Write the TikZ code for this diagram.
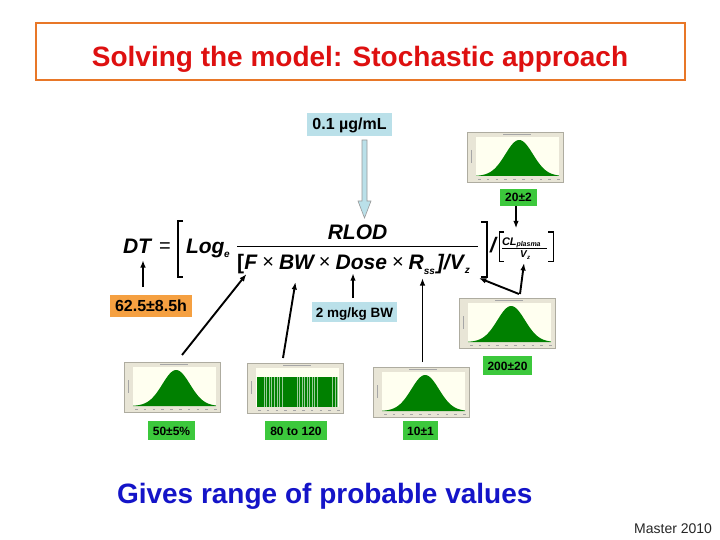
\documentclass[tikz,border=0pt]{standalone}
\usepackage{fontspec}
\setmainfont{Liberation Sans}
\usetikzlibrary{calc,arrows.meta}
\definecolor{titlered}{RGB}{222,16,16}
\definecolor{frameorange}{RGB}{232,119,40}
\definecolor{lightblue}{RGB}{186,224,233}
\definecolor{boxgreen}{RGB}{60,200,60}
\definecolor{boxorange}{RGB}{245,160,65}
\definecolor{histframe}{RGB}{232,229,214}
\definecolor{histinner}{RGB}{255,255,240}
\definecolor{histgreen}{RGB}{0,128,0}
\definecolor{gblue}{RGB}{20,20,200}
\newcommand\fbi[1]{\fontsize{#1}{#1}\selectfont\bfseries\itshape}
\newcommand\fup[1]{\fontsize{#1}{#1}\selectfont}
\tikzset{
  every node/.style={inner sep=0pt, outer sep=0pt},
  valbox/.style={fill=#1, font=\fup{12}\bfseries, text height=9pt, text depth=0pt, minimum height=19pt},
  bigbox/.style={fill=#1, font=\fup{15}\bfseries, text height=11pt, text depth=0pt},
  histbox/.style={fill=histframe, draw=histframe!75!black, line width=0.4pt, minimum width=96pt, minimum height=50pt},
  tiny/.style={gray!70, line width=0.9pt},
  arr/.style={-{Latex[length=7.5pt,width=5.5pt]}, line width=1.9pt, black},
  brk/.style={line width=1.2pt, black},
  fml/.style={anchor=base west, font=\fbi{21}},
  fmls/.style={anchor=base west, font=\fbi{10}},
  fmlx/.style={anchor=base west, font=\fup{20}},
}
\newcommand{\histdeco}{%
  \fill[histinner] (9,5) rectangle (92,44);
  \draw[tiny] (36,2.5) -- (64,2.5);
  \draw[tiny,line width=0.6pt] (4.5,18) -- (4.5,31);
  \foreach \t in {0,...,9} \draw[tiny,line width=0.6pt] ({11+\t*8.8},47) -- ({13.5+\t*8.8},47);
}
\newcommand{\bellhist}[3]{%
  \node[histbox, anchor=north west] (#1) at (#2,#3) {};
  \begin{scope}[shift={(#1.north west)}]
    \histdeco
    \fill[histgreen] (9,44) -- plot[domain=0:1,samples=60] ({9+83*\x},{44-36*exp(-((\x-0.52)^2)/0.055)}) -- (92,44) -- cycle;
  \end{scope}}
\newcommand{\barhist}[3]{%
  \node[histbox, anchor=north west] (#1) at (#2,#3) {};
  \begin{scope}[shift={(#1.north west)}]
    \histdeco
    \fill[histgreen!40] (10,14) rectangle (91,44);
    \foreach \i in {0,...,31} \fill[histgreen] ({10.3+\i*2.53},14) rectangle ({11.8+\i*2.53},44);
    \fill[histgreen] (10,14) rectangle (17,44);
    \fill[histgreen] (36,14) rectangle (48,44);
    \fill[histgreen] (73,14) rectangle (85,44);
  \end{scope}}
\begin{document}
\begin{tikzpicture}[x=1pt,y=-1pt]
\useasboundingbox (0,0) rectangle (720,540);
\fill[white] (0,0) rectangle (720,540);

% title
\node[draw=frameorange, line width=2.5pt, minimum width=649pt, minimum height=57pt] (titlebox) at (360.5,51.5) {};
\node[anchor=base, font=\fup{28}\bfseries, text=titlered] (title) at (360,67) {Solving the model: Stochastic approach};

% top concentration box and hollow arrow
\node[bigbox=lightblue, minimum width=85pt, minimum height=23pt, font=\fup{16}\bfseries] (nug) at (349.5,124.5) {0.1 µg/mL};
\coordinate (ha) at ($(nug.south)+(15,4)$);
\begin{scope}[shift={(ha)}]
  \filldraw[fill=lightblue, draw=gray!80, line width=0.6pt] (-2.5,0) -- (-2.5,61) -- (-6.5,61) -- (0,78) -- (6.5,61) -- (2.5,61) -- (2.5,0) -- cycle;
\end{scope}

% formula
\node[fml] (DT) at (123,253) {DT};
\node[fmlx] (eq) at (159,252) {=};
\draw[brk] (183,221) -- (178,221) -- (178,277) -- (183,277);
\node[fml] (log) at (186,253) {Log};
\node[fmls] (sube) at (224,257) {e};
\node[fml, anchor=base] (rlod) at (357.5,240) {RLOD};
\draw[line width=1.2pt] (237,246.5) -- (478,246.5);
\node[fml, font=\fup{21}\bfseries] (dbra) at (237,269) {[};
\node[fml] (dF) at ($(dbra.base east)+(0.5,0)$) {F};
\node[fmlx] (dx1) at ($(dF.base east)+(5,-1)$) {×};
\node[fml] (dBW) at ($(dx1.base east)+(5,1)$) {BW};
\node[fmlx] (dx2) at ($(dBW.base east)+(5,-1)$) {×};
\node[fml] (dDose) at ($(dx2.base east)+(5,1)$) {Dose};
\node[fmlx] (dx3) at ($(dDose.base east)+(5,-1)$) {×};
\node[fml] (dR) at ($(dx3.base east)+(5,1)$) {R};
\node[fmls] (dss) at ($(dR.base east)+(0,5)$) {ss};
\node[fml] (dket) at ($(dss.base east)+(2,-5)$) {]/V};
\node[fmls] (dz) at ($(dket.base east)+(1,4)$) {z};
\draw[brk] (481,222) -- (487,222) -- (487,277) -- (481,277);
\node[fml] (slash) at (490,252) {/};
\draw[brk,line width=1pt] (504,232) -- (499,232) -- (499,261) -- (504,261);
\draw[brk,line width=1pt] (548,232) -- (553,232) -- (553,261) -- (548,261);
\node[anchor=base west, font=\fbi{11}] (CL) at (502,245) {CL};
\node[anchor=base west, font=\fbi{7}] (plasma) at (516.5,247) {plasma};
\draw[line width=0.9pt] (502,248.5) -- (547,248.5);
\node[anchor=base west, font=\fbi{10}] (sV) at (520,257.5) {V};
\node[anchor=base west, font=\fbi{6}] (sz) at (527,259.5) {z};

% value boxes
\node[bigbox=boxorange, minimum width=82pt, minimum height=22pt, font=\fup{16}\bfseries] (n62) at (151,306) {62.5±8.5h};
\node[bigbox=lightblue, minimum width=85pt, minimum height=20pt, font=\fup{13.5}\bfseries, text height=10pt] (n2mg) at (354.5,312) {2 mg/kg BW};
\node[valbox=boxgreen, minimum width=37pt, minimum height=17pt] (n20) at (518.5,197.5) {20±2};
\node[valbox=boxgreen, minimum width=49pt] (n200) at (507.5,365.5) {200±20};
\node[valbox=boxgreen, minimum width=47pt] (n50) at (171.5,430.5) {50±5\%};
\node[valbox=boxgreen, minimum width=62pt] (n80) at (296,430.5) {80 to 120};
\node[valbox=boxgreen, minimum width=35pt] (n10) at (420.5,430.5) {10±1};

% histograms
\bellhist{hT}{467}{132}
\bellhist{hV}{459}{298}
\bellhist{hF}{124}{362}
\barhist{hB}{247}{363}
\bellhist{hR}{373}{367}

% connector end points
\coordinate (sDT) at ($(n62.north)+(-8,-8)$);
\coordinate (eDT) at ($(DT.south)+(0,7)$);
\coordinate (s20) at ($(n20.south)+(-2.5,0)$);
\coordinate (e20) at ($(CL.north)+(0,-9)$);
\coordinate (s2mg) at ($(n2mg.north)+(-1.5,-4)$);
\coordinate (eDose) at ($(dDose.south)+(0,4)$);
\coordinate (sR) at ($(hR.north)+(1.5,-5)$);
\coordinate (eR) at ($(dR.south)+(0,9)$);

% connectors
\draw[arr] (sDT) -- (sDT |- eDT);
\draw[arr] (s20) -- (s20 |- e20);
\draw[arr] ($(hF.north)+(10,-7)$) -- ($(dF.south west)+(2,5)$);
\draw[arr] ($(hB.north)+(-12,-5)$) -- ($(dBW.south)+(-1,13)$);
\draw[arr] (s2mg) -- (s2mg |- eDose);
\draw[arr] (sR) -- (sR |- eR);
\draw[arr] ($(hV.north)+(12,-4)$) -- ($(dz.south east)+(9,5)$);
\draw[arr] ($(hV.north)+(13,-4)$) -- ($(sV.south)+(0.7,5.5)$);

% footer texts
\node[anchor=base west, font=\fup{28}\bfseries, text=gblue] (gives) at (117,503) {Gives range of probable values};
\node[anchor=base east, font=\fup{14}, text=black!85] (master) at (712,533) {Master 2010};
\end{tikzpicture}
\end{document}
